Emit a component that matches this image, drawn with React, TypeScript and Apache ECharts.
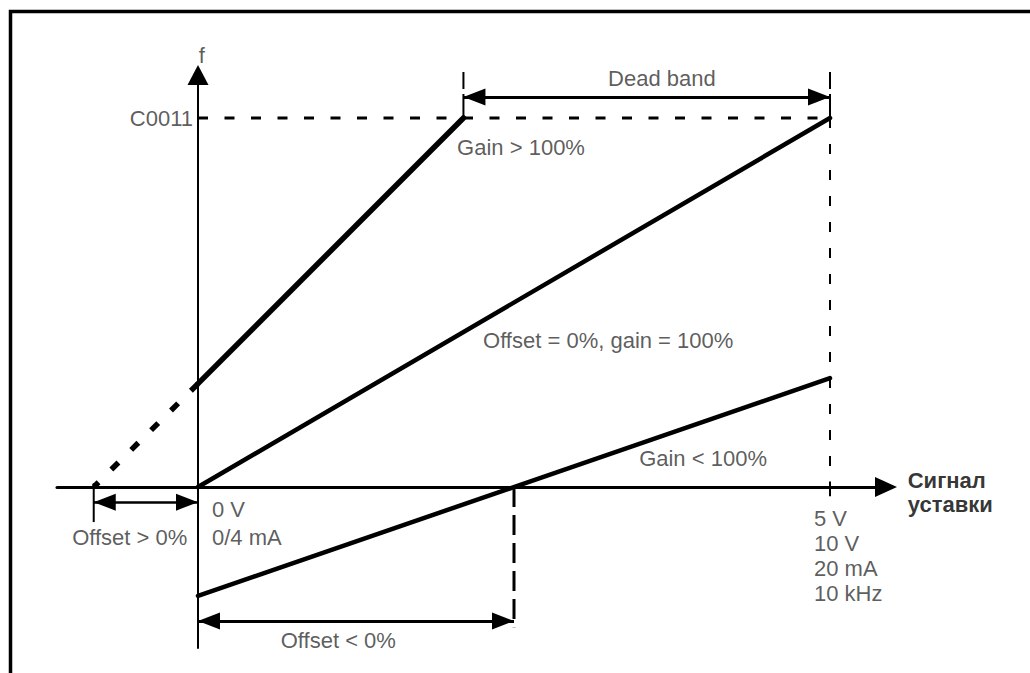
import React, { useEffect, useRef } from 'react';
import * as echarts from 'echarts';

// ---------- DATA ----------
// x: set-value signal, % of full range (0 = 0 V / 0/4 mA, 100 = 5 V / 10 V / 20 mA / 10 kHz)
// y: output frequency f, % of C0011
const signalTickValues = [0, 100];
const signalTickLabels = ['0 V\n0/4 mA', '5 V\n10 V\n20 mA\n10 kHz'];
const freqTickValues = [100];
const freqTickLabels = ['C0011'];

const nominalCurve = [[0, 0], [100, 100]];        // Offset = 0%, gain = 100%
const highGainCurve = [[0, 28], [42, 100]];       // Gain > 100%
const highGainExtension = [[-16.5, 0], [0, 28]];  // extension to the positive offset
const lowGainCurve = [[0, -29.5], [100, 29.5]];   // Gain < 100%

const offsetPositiveZero = -16.5; // Offset > 0%
const offsetNegativeZero = 50;    // Offset < 0%
const deadBandStart = 42;
const deadBandEnd = 100;

const curveLabels = ['Gain > 100%', 'Offset = 0%, gain = 100%', 'Gain < 100%'];
const dimensionLabels = ['Dead band', 'Offset > 0%', 'Offset < 0%'];
const axisNames = ['f', 'Сигнал\nуставки'];

// ---------- LAYOUT ----------
const W = 1030, H = 673;
const ORIGIN_X = 198, FULL_X = 830;
const ORIGIN_Y = 487, FULL_Y = 118;
const AXIS_LEFT = 57, AXIS_RIGHT = 886, AXIS_TOP = 75, AXIS_BOTTOM = 648;
const kx = (FULL_X - ORIGIN_X) / 100;
const ky = (ORIGIN_Y - FULL_Y) / 100;
const xMin = (AXIS_LEFT - ORIGIN_X) / kx;
const xMax = (AXIS_RIGHT - ORIGIN_X) / kx;
const yMin = -(AXIS_BOTTOM - ORIGIN_Y) / ky;
const yMax = (ORIGIN_Y - AXIS_TOP) / ky;

// annotation levels (data units)
const guideTop = 112.5;
const deadBandLevel = 105.7;
const offsetPosLevel = -4.1;
const offsetNegLevel = -36.3;

const FONT = "'Liberation Sans', Arial, sans-serif";
const TXT = '#333';

function line(data: number[][], width: number, type: any = 'solid', extra: any = {}) {
  return {
    type: 'line',
    data,
    symbol: 'none',
    silent: true,
    clip: false,
    lineStyle: { color: '#000', width, type, cap: 'butt' },
    z: 5,
    ...extra,
  };
}

function arrowEnd(coord: number[], extra: any = {}) {
  return { coord, symbol: 'triangle', symbolSize: [17, 22], symbolOffset: [0, 11], ...extra };
}

export default function App() {
  const ref = useRef<HTMLDivElement>(null);
  useEffect(() => {
    if (!ref.current) return;
    const chart = echarts.init(ref.current, undefined, { renderer: 'svg' });

    const labelItems: any[] = [
      { name: axisNames[0], value: [0.6, 117], label: { align: 'center' } },
      { name: freqTickLabels[0], value: [0, freqTickValues[0]], label: { align: 'right', offset: [-5, 0] } },
      { name: signalTickLabels[0], value: [signalTickValues[0], -9.8], label: { align: 'left', offset: [14, 0], lineHeight: 28 } },
      { name: signalTickLabels[1], value: [signalTickValues[1], -18.6], label: { align: 'left', offset: [-16, 0], lineHeight: 25 } },
      { name: axisNames[1], value: [112.3, -1.6], label: { align: 'left', fontWeight: 'bold', color: '#000', lineHeight: 24 } },
      { name: curveLabels[0], value: [41, 92], label: { align: 'left' } },
      { name: curveLabels[1], value: [45.1, 39.8], label: { align: 'left' } },
      { name: curveLabels[2], value: [69.8, 7.6], label: { align: 'left' } },
      { name: dimensionLabels[0], value: [73.4, 110.8], label: { align: 'center' } },
      { name: dimensionLabels[1], value: [-10.8, -13.8], label: { align: 'center' } },
      { name: dimensionLabels[2], value: [22.2, -41.5], label: { align: 'center' } },
    ];

    chart.setOption({
      animation: false,
      backgroundColor: '#fff',
      grid: { left: AXIS_LEFT, right: W - AXIS_RIGHT, top: AXIS_TOP, bottom: H - AXIS_BOTTOM, containLabel: false },
      xAxis: {
        type: 'value', min: xMin, max: xMax,
        axisLine: { onZero: true, lineStyle: { color: '#000', width: 3 }, symbol: ['none', 'triangle'], symbolSize: [20, 22] },
        axisTick: { show: false }, axisLabel: { show: false }, splitLine: { show: false },
      },
      yAxis: {
        type: 'value', min: yMin, max: yMax,
        axisLine: { onZero: true, lineStyle: { color: '#000', width: 2 }, symbol: ['none', 'triangle'], symbolSize: [21, 20] },
        axisTick: { show: false }, axisLabel: { show: false }, splitLine: { show: false },
      },
      graphic: [
        { type: 'rect', shape: { x: 10.5, y: 11.5, width: 1200, height: 1000 }, style: { fill: 'none', stroke: '#000', lineWidth: 3.5 }, silent: true },
      ],
      series: [
        line([[0, freqTickValues[0]], [deadBandEnd, freqTickValues[0]]], 3, [10, 16.5], { z: 3 }),
        line([[deadBandEnd, guideTop], [deadBandEnd, freqTickValues[0]]], 2, [17, 5, 24, 100], { z: 3 }),
        line([[deadBandStart, guideTop], [deadBandStart, freqTickValues[0]]], 2, [17, 5, 24, 100], { z: 3 }),
        line([[deadBandEnd, freqTickValues[0]], [deadBandEnd, -2]], 2, [10, 16], { z: 3 }),
        line([[deadBandEnd, 1.5], [deadBandEnd, -2.5]], 2, 'solid', { z: 3 }),
        line([[offsetNegativeZero, 0], [offsetNegativeZero, -38]], 3, [20, 8], { z: 3 }),
        line([[offsetPositiveZero, 1], [offsetPositiveZero, -9.5]], 2, 'solid', { z: 3 }),
        line(highGainExtension.slice().reverse(), 5.5, [10, 18]),
        line(highGainCurve, 5.5, 'solid', { lineStyle: { color: '#000', width: 5.5, cap: 'round' } }),
        line(lowGainCurve, 4.5, 'solid', { lineStyle: { color: '#000', width: 4.5, cap: 'round' } }),
        line(nominalCurve, 4.5, 'solid', {
          lineStyle: { color: '#000', width: 4.5, cap: 'round' },
          markLine: {
            silent: true,
            animation: false,
            symbol: ['triangle', 'triangle'],
            label: { show: false },
            lineStyle: { color: '#000', width: 3, type: 'solid' },
            emphasis: { disabled: true },
            data: [
              [arrowEnd([deadBandStart, deadBandLevel]), arrowEnd([deadBandEnd, deadBandLevel])],
              [arrowEnd([offsetPositiveZero, offsetPosLevel], { lineStyle: { width: 2.5 } }), arrowEnd([0, offsetPosLevel])],
              [arrowEnd([0, offsetNegLevel]), arrowEnd([offsetNegativeZero, offsetNegLevel])],
            ],
          },
        }),
        {
          type: 'scatter',
          data: labelItems,
          symbolSize: 1,
          clip: false,
          silent: true,
          itemStyle: { color: 'rgba(0,0,0,0)' },
          label: {
            show: true,
            position: 'inside',
            formatter: '{b}',
            fontFamily: FONT,
            fontSize: 22,
            color: TXT,
            verticalAlign: 'middle',
          },
          z: 10,
        },
      ],
    });
    return () => chart.dispose();
  }, []);

  return <div ref={ref} style={{ position: 'fixed', left: 0, top: 0, width: W, height: H, background: '#fff' }} />;
}
